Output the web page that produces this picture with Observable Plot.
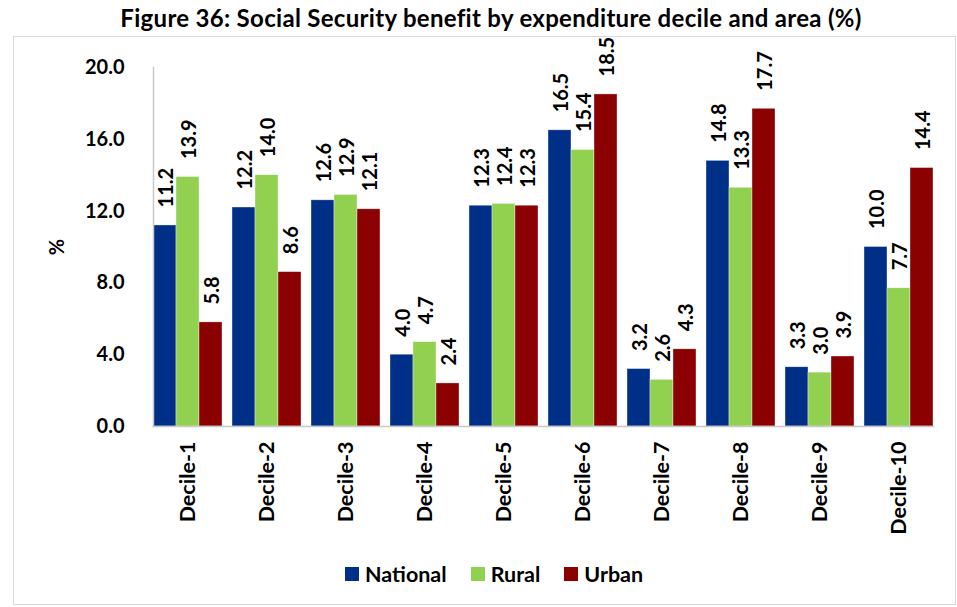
<!DOCTYPE html>
<html>
<head>
<meta charset="utf-8">
<script src="https://cdn.jsdelivr.net/npm/d3@7"></script>
<script src="https://cdn.jsdelivr.net/npm/@observablehq/plot@0.6"></script>
<style>
  html, body { margin: 0; padding: 0; background: #fff; }
  body { width: 957px; height: 607px; position: relative; overflow: hidden; font-family: Lato, "Noto Sans", sans-serif; }
  #title { position: absolute; top: 3px; left: 491px; transform: translateX(-50%); white-space: nowrap; font-weight: bold; font-size: 24px; letter-spacing: 0.3px; color: #000; z-index: 2; background: #fff; }
  #border { position: absolute; left: 13px; top: 36px; width: 941px; height: 567px; border: 1px solid #d9d9d9; }
  #chart { position: absolute; left: 0; top: 0; }
  #legend { position: absolute; top: 561px; left: 345px; display: flex; align-items: center; font-weight: bold; font-size: 21.5px; color: #000; }
  #legend .item { display: flex; align-items: center; margin-right: 24px; }
  #legend .sw { width: 14px; height: 14px; margin-right: 6px; }
</style>
</head>
<body>
<div id="border"></div>
<div id="chart"></div>
<div id="title">Figure 36: Social Security benefit by expenditure decile and area (%)</div>
<div id="legend"></div>
<script>
const deciles = ["Decile-1","Decile-2","Decile-3","Decile-4","Decile-5","Decile-6","Decile-7","Decile-8","Decile-9","Decile-10"];
const seriesNames = ["National","Rural","Urban"];
const seriesColors = ["#002f87","#92d050","#8b0000"];
const national = [11.2,12.2,12.6,4.0,12.3,16.5,3.2,14.8,3.3,10.0];
const rural    = [13.9,14.0,12.9,4.7,12.4,15.4,2.6,13.3,3.0,7.7];
const urban    = [5.8,8.6,12.1,2.4,12.3,18.5,4.3,17.7,3.9,14.4];
const yTicks = [0,4,8,12,16,20];

const seriesValues = [national, rural, urban];
const data = [];
deciles.forEach((d, i) => {
  seriesNames.forEach((s, j) => data.push({decile: d, series: s, value: seriesValues[j][i]}));
});

const plot = Plot.plot({
  width: 957,
  height: 570,
  marginTop: 67,
  marginBottom: 144,
  marginLeft: 146,
  marginRight: 17,
  style: {fontFamily: "Lato, 'Noto Sans', sans-serif", fontWeight: "bold", color: "#000", background: "transparent"},
  fx: {domain: deciles, paddingInner: 0.126, paddingOuter: 0.063, axis: null},
  x: {domain: seriesNames, padding: 0, axis: null},
  y: {domain: [0, 20], axis: null},
  color: {domain: seriesNames, range: seriesColors},
  marks: [
    Plot.axisY({ticks: yTicks, tickFormat: d => d.toFixed(1), tickSize: 0, tickPadding: 29, fontSize: 20, fontWeight: "bold", label: "%", labelArrow: "none", labelAnchor: "center", labelOffset: 104}),
    Plot.axisFx({anchor: "bottom", tickRotate: -90, tickSize: 0, tickPadding: 15, fontSize: 21.5, fontWeight: "bold", label: null}),
    Plot.barY(data, {fx: "decile", x: "series", y: "value", fill: "series", stroke: "#ffffff", strokeOpacity: 0.6, strokeWidth: 0.6}),
    Plot.text(data, {fx: "decile", x: "series", y: "value", text: d => d.value.toFixed(1), rotate: -90, textAnchor: "start", dy: -18, dx: 2, fontSize: 20, fontWeight: "bold", fill: "#000"}),
    Plot.frame({anchor: "bottom", stroke: "#c8c8c8", strokeWidth: 1.5, facet: "super"}),
    Plot.frame({anchor: "left", stroke: "#c8c8c8", strokeWidth: 1.5, facet: "super"})
  ]
});
document.getElementById("chart").appendChild(plot);

const legend = document.getElementById("legend");
seriesNames.forEach((s, i) => {
  const item = document.createElement("div");
  item.className = "item";
  const sw = document.createElement("div");
  sw.className = "sw";
  sw.style.background = seriesColors[i];
  const t = document.createElement("span");
  t.textContent = s;
  item.appendChild(sw);
  item.appendChild(t);
  legend.appendChild(item);
});
</script>
</body>
</html>
